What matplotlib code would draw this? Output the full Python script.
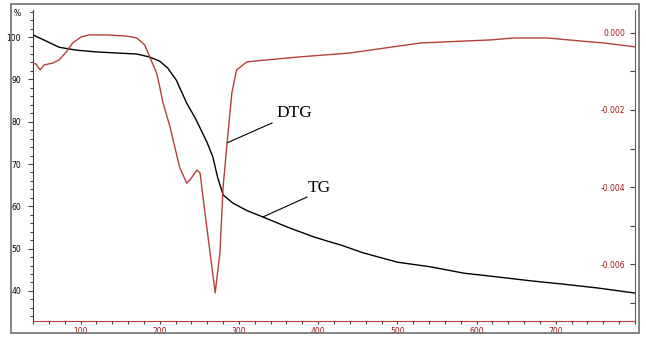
import matplotlib
matplotlib.use("Agg")
import matplotlib.pyplot as plt
from matplotlib.patches import Rectangle
from matplotlib.ticker import MultipleLocator, FixedLocator

# ==== dados ====
# TG (% massa)
tg_temp = [40, 55, 73, 95, 120, 149, 171, 187, 200, 210, 221, 234, 245, 251, 260,
           267, 273, 280, 292, 310, 330, 361, 394, 415, 428, 457, 500, 542, 584,
           627, 668, 710, 753, 800]
tg_mass = [100.5, 99.2, 97.6, 96.9, 96.5, 96.2, 96.0, 95.3, 94.3, 92.7, 89.8, 84.4,
           80.8, 78.5, 75.0, 71.7, 66.9, 62.7, 60.8, 59.0, 57.5, 55.1, 52.8, 51.6,
           50.9, 49.0, 46.8, 45.7, 44.2, 43.3, 42.4, 41.6, 40.7, 39.5]

# DTG
dtg_temp = [40, 44, 49, 54, 65, 73, 82, 90, 101, 111, 133, 158, 171, 181, 188, 196,
            200, 204, 213, 225, 234, 238, 247, 251, 254, 261, 270, 276, 280, 285,
            291, 297, 310, 335, 377, 440, 529, 584, 618, 647, 690, 732, 761, 800]
dtg_val = [-0.00078, -0.00081, -0.00096, -0.00083, -0.00078, -0.0007, -0.00049,
           -0.00026, -0.0001, -0.00005, -0.00005, -0.00008, -0.00013, -0.00031,
           -0.00065, -0.00104, -0.0014, -0.0018, -0.00244, -0.00348, -0.0039,
           -0.00382, -0.00356, -0.00364, -0.00416, -0.0053, -0.00675, -0.0057,
           -0.004, -0.00286, -0.00156, -0.00096, -0.00075, -0.0007, -0.00062,
           -0.00052, -0.00026, -0.00021, -0.00018, -0.00013, -0.00013, -0.00021,
           -0.00026, -0.00036]

x_ticks = [100, 200, 300, 400, 500, 600, 700]

W, H = 646, 337
red = '#b3403a'
lbl_red = '#a01818'

fig = plt.figure(figsize=(W / 100, H / 100), dpi=100)
fig.patch.set_facecolor('white')

# moldura cinza externa
fig.patches.append(Rectangle((11 / W, 4 / H), 628 / W, 329 / H, transform=fig.transFigure,
                             fill=False, edgecolor='#7a7a7a', lw=1.3))

ax = fig.add_axes([33 / W, (H - 321) / H, 602 / W, 311 / H])
ax2 = ax.twinx()

ax.plot(tg_temp, tg_mass, color='black', lw=1.0, zorder=3)
ax2.plot(dtg_temp, dtg_val, color=red, lw=1.0)

ax.set_xlim(40, 800)
ax.set_ylim(32.9, 106.4)
ax2.set_ylim(-0.00748, 0.000597)

ax.xaxis.set_major_locator(FixedLocator(x_ticks))
ax.xaxis.set_minor_locator(MultipleLocator(20))
ax.yaxis.set_major_locator(MultipleLocator(10))
ax.yaxis.set_minor_locator(MultipleLocator(2))
ax2.yaxis.set_major_locator(MultipleLocator(0.002))
ax2.yaxis.set_minor_locator(MultipleLocator(0.001))

ax.spines['top'].set_visible(False)
ax2.spines['top'].set_visible(False)
ax.spines['left'].set_color('#404040')
ax.spines['bottom'].set_color(red)
ax2.spines['right'].set_color(red)
ax2.spines['left'].set_visible(False)
ax2.spines['bottom'].set_visible(False)
ax.spines['right'].set_visible(False)

ax.tick_params(axis='y', which='both', direction='out', length=3.5, width=0.8,
               color='#404040', labelsize=5.5, labelcolor='black', pad=5)
ax.tick_params(axis='y', which='minor', length=2)
ax.tick_params(axis='x', which='both', direction='out', length=2.5, width=0.8,
               color='#404040', labelsize=5.5, labelcolor=lbl_red, pad=2)
ax2.tick_params(axis='y', which='both', direction='in', length=3.5, width=0.8,
                color='#404040', labelsize=5.5, labelcolor=lbl_red, pad=-7)
ax2.yaxis.set_major_formatter(lambda v, p: f'{v:.3f}'.replace('-0.000', '0.000'))
plt.setp(ax2.get_yticklabels(), ha='right')

fig.text(17 / W, 1 - 13 / H, '%', fontsize=5.5, ha='center', va='center')

# rótulos das curvas
ax.plot([285, 341.8], [75.0, 79.7], color='black', lw=0.8)
ax.text(346.8, 82.0, 'DTG', family='Liberation Serif', fontsize=12.5, ha='left', va='center')
ax.plot([330.4, 386], [57.5, 62.2], color='black', lw=0.8)
ax.text(387, 64.3, 'TG', family='Liberation Serif', fontsize=12.5, ha='left', va='center')

fig.savefig('out.png', dpi=100, facecolor='white')
